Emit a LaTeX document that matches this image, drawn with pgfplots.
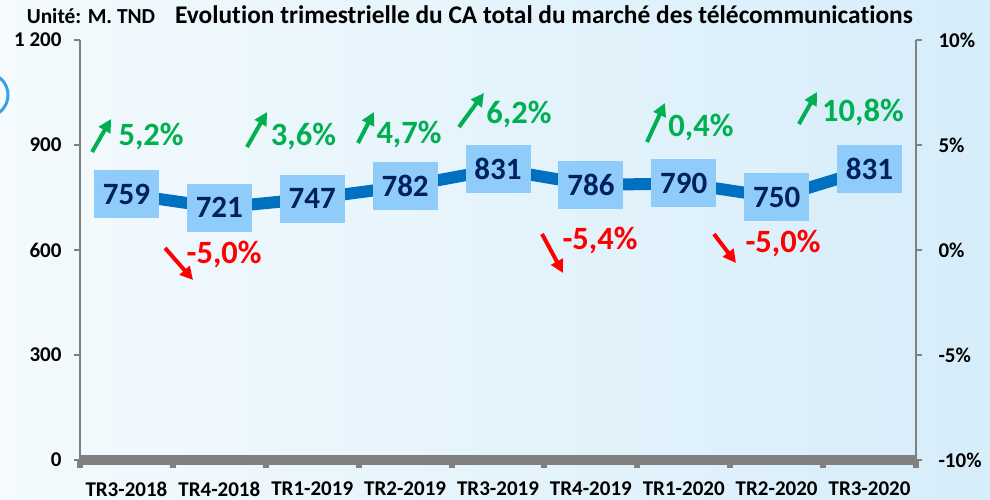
\documentclass[border=0pt]{standalone}
\usepackage{fontspec}
\setmainfont{Carlito}[RawFeature=-liga]
\usepackage{pgfplots}
\pgfplotsset{compat=1.18}
\usetikzlibrary{arrows.meta}

\definecolor{bgleft}{RGB}{244,250,253}
\definecolor{bgright}{RGB}{214,237,250}
\definecolor{lineblue}{RGB}{0,112,192}
\definecolor{boxblue}{RGB}{143,204,250}
\definecolor{navy}{RGB}{0,32,96}
\definecolor{upgreen}{RGB}{0,176,80}
\definecolor{downred}{RGB}{255,0,0}
\definecolor{axisgray}{RGB}{128,128,128}
\definecolor{ringblue}{RGB}{60,160,232}

\begin{document}
\begin{tikzpicture}
\useasboundingbox (0,0) rectangle (990pt,500pt);
\shade[left color=bgleft, right color=bgright] (0,0) rectangle (990pt,500pt);
\draw[ringblue, line width=3pt] (-14pt,405pt) circle (22pt);

\node[anchor=base, font=\fontsize{21.4}{25}\selectfont\bfseries] at (91pt,476pt) {Unité: M. TND};
\node[anchor=base, font=\fontsize{25.4}{30}\selectfont\bfseries] at (544pt,476pt)
  {Evolution trimestrielle du CA total du marché des télécommunications};

% axe de gauche + donnees
\begin{axis}[
  at={(80pt,40pt)}, anchor=south west,
  scale only axis, width=836pt, height=420pt,
  xmin=-0.5, xmax=8.5, ymin=0, ymax=1200,
  clip=false,
  /pgf/number format/assume math mode=true,
  axis x line*=bottom, axis y line*=left,
  axis line style={-},
  x axis line style={line width=10pt, draw=axisgray},
  y axis line style={line width=1.5pt, draw=axisgray},
  tick align=outside,
  major tick length=6pt,
  minor tick length=8pt,
  ytick={0,300,600,900,1200},
  yticklabels={0,300,600,900,1 200},
  y tick style={draw=axisgray, line width=1.5pt},
  xtick={0,...,8},
  xticklabels={TR3-2018,TR4-2018,TR1-2019,TR2-2019,TR3-2019,TR4-2019,TR1-2020,TR2-2020,TR3-2020},
  minor xtick={-0.5,0.5,...,8.5},
  major x tick style={draw=none},
  minor x tick style={draw=axisgray, line width=6pt},
  ticklabel style={font=\fontsize{21}{25}\selectfont\bfseries},
  xticklabel style={yshift=-12pt},
  yticklabel style={xshift=-9pt},
]
\addplot[color=lineblue, line width=12pt, line join=round, mark=none,
  nodes near coords,
  every node near coord/.append style={anchor=center, fill=boxblue, text=navy,
    minimum width=65pt, minimum height=48pt, inner sep=0pt,
    font=\fontsize{31}{36}\selectfont\bfseries}]
  coordinates {(0,759) (1,721) (2,747) (3,782) (4,831) (5,786) (6,790) (7,750) (8,831)};

% fleches vertes
\addplot[upgreen, line width=4pt, mark=none, -{Triangle[length=13pt,width=13pt]},
  quiver={u=\thisrow{u}, v=\thisrow{v}}] table {
x y u v
-0.370 880.0 0.204 94.3
1.298 894.3 0.215 100.0
2.493 905.7 0.172 88.6
3.580 951.4 0.269 97.1
5.604 908.6 0.194 111.4
7.240 960.0 0.194 91.4
};
% fleches rouges
\addplot[downred, line width=4pt, mark=none, -{Triangle[length=13pt,width=13pt]},
  quiver={u=\thisrow{u}, v=\thisrow{v}}] table {
x y u v
0.416 605.7 0.301 -91.4
4.474 645.7 0.226 -111.4
6.325 645.7 0.237 -82.8
};

% taux de variation
\addplot[draw=none, mark=none, nodes near coords, point meta=explicit symbolic,
  every node near coord/.append style={anchor=center, text=upgreen,
    font=\fontsize{32.5}{38}\selectfont\bfseries}]
  table[meta=lab] {
x y lab
0.265 925.7 5,2\%
1.906 925.7 3,6\%
3.042 931.4 4,7\%
4.226 987.1 6,2\%
6.185 948.6 0,4\%
7.929 992.3 10,8\%
};
\addplot[draw=none, mark=none, nodes near coords, point meta=explicit symbolic,
  every node near coord/.append style={anchor=center, text=downred,
    font=\fontsize{32.5}{38}\selectfont\bfseries}]
  table[meta=lab] {
x y lab
1.051 587.1 -5,0\%
5.098 627.7 -5,4\%
7.068 620.0 -5,0\%
};
\end{axis}

% axe de droite
\begin{axis}[
  at={(80pt,40pt)}, anchor=south west,
  scale only axis, width=836pt, height=420pt,
  xmin=-0.5, xmax=8.5, ymin=-10, ymax=10,
  axis x line=none, axis y line*=right,
  axis line style={-},
  y axis line style={line width=1.5pt, draw=axisgray},
  tick align=outside,
  major tick length=6pt,
  ytick={-10,-5,0,5,10},
  yticklabels={-10\%,-5\%,0\%,5\%,10\%},
  y tick style={draw=axisgray, line width=1.5pt},
  yticklabel style={anchor=west, xshift=13pt, font=\fontsize{21}{25}\selectfont\bfseries},
]
\end{axis}
\end{tikzpicture}
\end{document}
